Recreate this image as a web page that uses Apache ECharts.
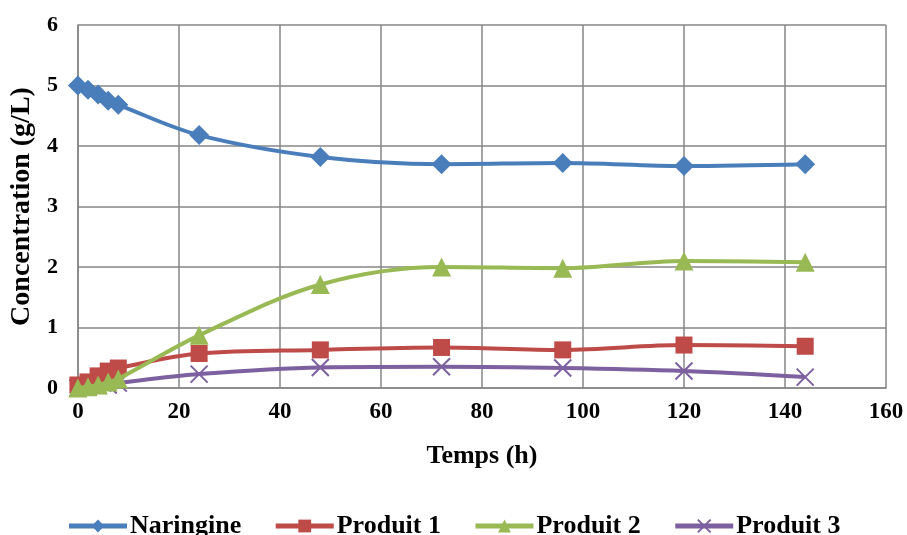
<!DOCTYPE html>
<html><head><meta charset="utf-8">
<script src="https://cdn.jsdelivr.net/npm/echarts@6/dist/echarts.min.js"></script>
<style>html,body{margin:0;padding:0;background:#fff}#c{width:907px;height:535px}</style>
</head><body><div id="c"></div>
<script>
const times = [0, 2, 4, 6, 8, 24, 48, 72, 96, 120, 144];
const naringine = [5.0, 4.93, 4.85, 4.75, 4.68, 4.18, 3.82, 3.70, 3.72, 3.67, 3.70];
const produit1 = [0.05, 0.10, 0.20, 0.28, 0.33, 0.57, 0.63, 0.67, 0.63, 0.71, 0.69];
const produit2 = [0.00, 0.02, 0.05, 0.10, 0.15, 0.87, 1.71, 2.00, 1.98, 2.10, 2.08];
const produit3 = [0.00, 0.02, 0.04, 0.05, 0.08, 0.23, 0.34, 0.35, 0.33, 0.28, 0.18];
const seriesNames = ['Naringine', 'Produit 1', 'Produit 2', 'Produit 3'];
const xTicks = {min: 0, max: 160, interval: 20};
const yTicks = {min: 0, max: 6, interval: 1};

const font = '"Liberation Serif", "Times New Roman", serif';
const colors = ['#4a7ebb', '#be4b48', '#98b954', '#7d60a0'];
const xSym = 'path://M0,0L10,10M10,0L0,10';
function pairs(arr){ return times.map((t,i)=>[t, arr[i]]); }
const symbols = ['diamond', 'rect', 'triangle', xSym];
const sizes = [20, 17, 19, 17];
const datas = [naringine, produit1, produit2, produit3];

const chart = echarts.init(document.getElementById('c'), null, {renderer:'canvas'});
chart.setOption({
  animation: false,
  backgroundColor: '#fff',
  grid: {left: 76, right: 21, top: 25, bottom: 147, containLabel: false},
  legend: {
    top: 508, left: 'center', itemWidth: 58, itemHeight: 16, itemGap: 32,
    data: seriesNames,
    lineStyle: {width: 5},
    textStyle: {fontFamily: font, fontWeight: 'bold', fontSize: 26, color: '#000', padding: [0, 0, 0, -2]}
  },
  xAxis: {
    type: 'value', min: xTicks.min, max: xTicks.max, interval: xTicks.interval,
    name: 'Temps (h)', nameLocation: 'middle', nameGap: 55,
    nameTextStyle: {fontFamily: font, fontWeight: 'bold', fontSize: 26, color: '#000'},
    axisLine: {show: true, lineStyle: {color: '#868686', width: 1.5}},
    axisTick: {show: false},
    splitLine: {show: true, lineStyle: {color: '#868686', width: 1.5}},
    axisLabel: {fontFamily: font, fontWeight: 'bold', fontSize: 23, color: '#000', margin: 13}
  },
  yAxis: {
    type: 'value', min: yTicks.min, max: yTicks.max, interval: yTicks.interval,
    name: 'Concentration (g/L)', nameLocation: 'middle', nameGap: 35, nameRotate: 90,
    nameTextStyle: {fontFamily: font, fontWeight: 'bold', fontSize: 28, color: '#000'},
    axisLine: {show: true, lineStyle: {color: '#868686', width: 1.5}},
    axisTick: {show: false},
    splitLine: {show: true, lineStyle: {color: '#868686', width: 1.5}},
    axisLabel: {fontFamily: font, fontWeight: 'bold', fontSize: 22, color: '#000', margin: 20}
  },
  series: datas.map((d, i) => ({
    name: seriesNames[i], type: 'line', smooth: 0.35,
    data: pairs(d),
    symbol: symbols[i], symbolSize: sizes[i],
    showAllSymbol: true,
    lineStyle: {color: colors[i], width: 4},
    itemStyle: i === 3 ? {color: 'transparent', borderColor: colors[i], borderWidth: 2} : {color: colors[i], borderWidth: 0},
    z: 2 + (i === 3 ? 0 : i)
  }))
});
</script></body></html>
